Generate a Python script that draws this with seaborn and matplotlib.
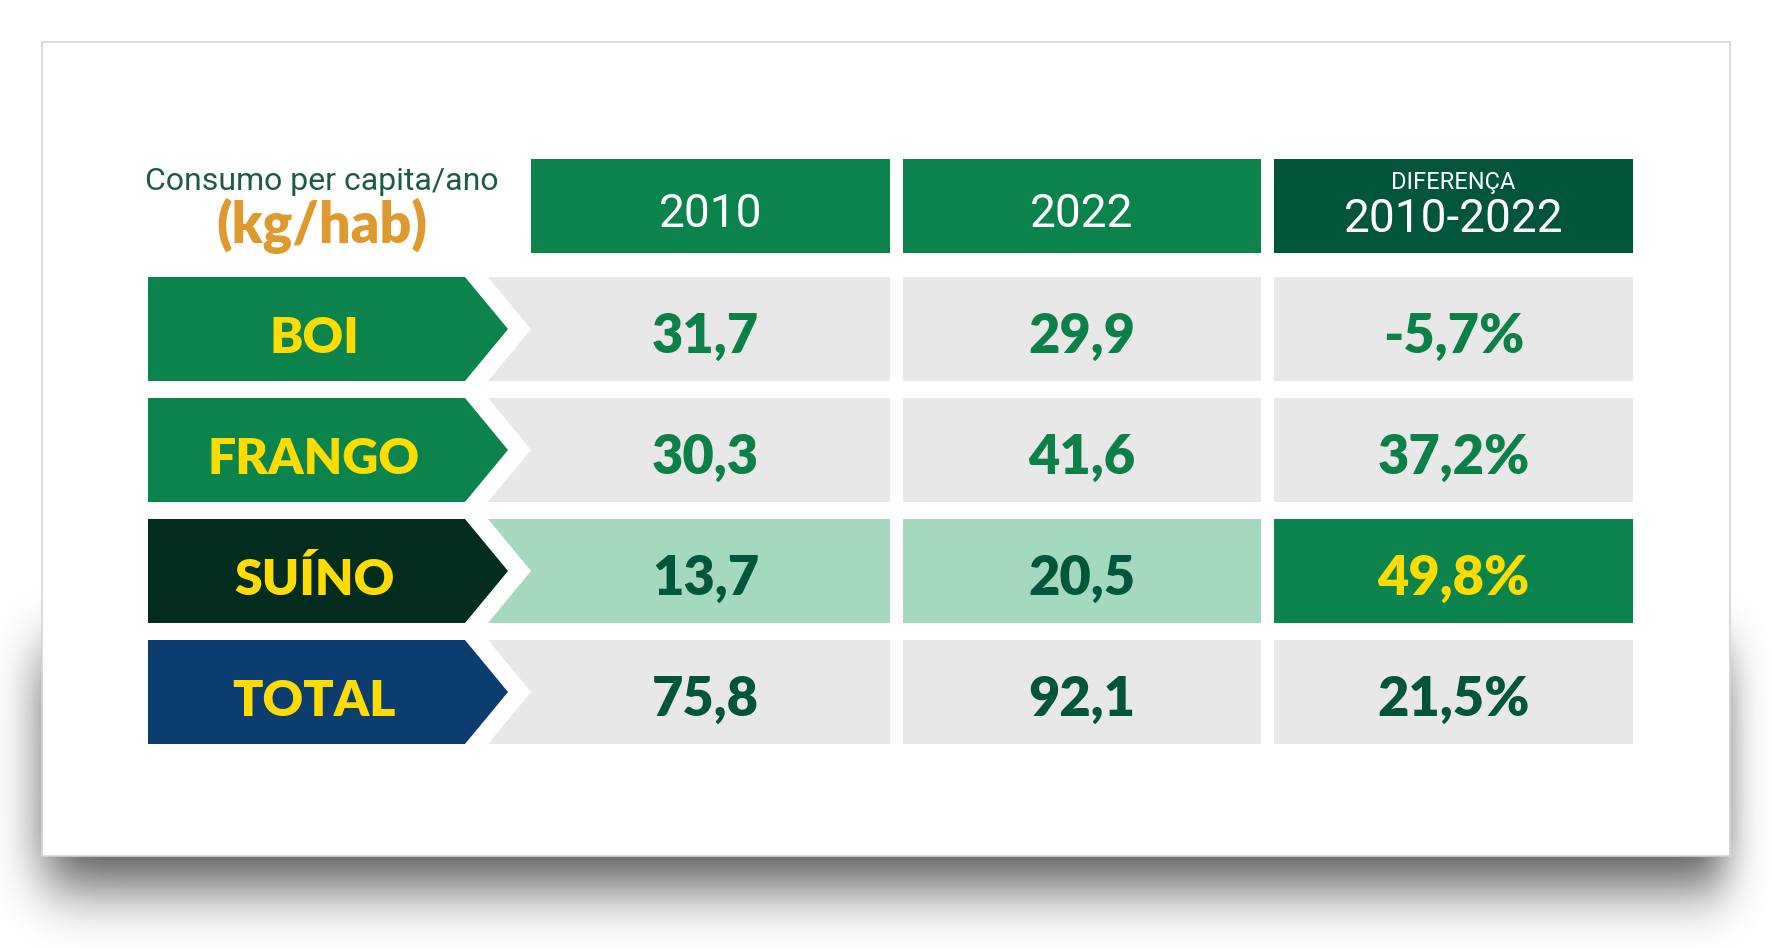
import numpy as np
import seaborn as sns
import matplotlib.pyplot as plt
from matplotlib.patches import Polygon, Rectangle

# data
categorias = ["BOI", "FRANGO", "SUÍNO", "TOTAL"]
anos = ["2010", "2022"]
consumo_2010 = [31.7, 30.3, 13.7, 75.8]
consumo_2022 = [29.9, 41.6, 20.5, 92.1]
diferenca = [-5.7, 37.2, 49.8, 21.5]

# colours
VERDE = "#0a834c"
VERDE_ESCURO = "#00553a"
AMARELO = "#ffdc00"
CINZA = "#e8e8e8"
VERDE_CLARO = "#a4d9c0"
label_bg = [VERDE, VERDE, "#022c1e", "#0b3d70"]
cell_bg = [CINZA, CINZA, VERDE_CLARO, CINZA]
value_color = ["#0b8048", "#0b8048", VERDE_ESCURO, VERDE_ESCURO]
diff_bg = [CINZA, CINZA, VERDE, CINZA]
diff_color = ["#0b8048", "#0b8048", AMARELO, VERDE_ESCURO]

sns.set_theme(style="white")
plt.rcParams["font.family"] = ["Lato", "DejaVu Sans"]

W, H = 1773, 948
fig = plt.figure(figsize=(W / 100, H / 100), dpi=100)
ax = fig.add_axes([0, 0, 1, 1])
ax.set_xlim(0, W)
ax.set_ylim(H, 0)
ax.axis("off")


def phi(z):
    return 0.5 * (1 + np.tanh(0.7978845608 * (z + 0.044715 * z ** 3)))


def fmt(v):
    return f"{v:.1f}".replace(".", ",")


# drop shadow under the card
xx = np.arange(W)[None, :] + 0.5
yy = np.arange(H)[:, None] + 0.5
sx = phi((xx - 45) / 25) * phi((1725 - xx) / 20)
sy = phi((yy - 650) / 30) * phi((885 - yy) / 30)
shadow = np.zeros((H, W, 4))
shadow[..., 3] = 0.68 * sx * sy
ax.imshow(shadow, extent=(0, W, H, 0), zorder=0, interpolation="bilinear")

# card
ax.add_patch(Rectangle((42, 42), 1688, 814, facecolor="white",
                       edgecolor="#d4d4d4", lw=1.2, zorder=1))

# header
col_x = [(531, 890), (903, 1261), (1274, 1633)]
h_top, h_bot = 159, 253
for (x0, x1), ano in zip(col_x[:2], anos):
    ax.add_patch(Rectangle((x0, h_top), x1 - x0, h_bot - h_top,
                           facecolor=VERDE, lw=0, zorder=2))
    ax.text((x0 + x1) / 2, 227, ano, ha="center", va="baseline",
            color="white", fontsize=33, family="Roboto", zorder=3)
x0, x1 = col_x[2]
ax.add_patch(Rectangle((x0, h_top), x1 - x0, h_bot - h_top,
                       facecolor=VERDE_ESCURO, lw=0, zorder=2))
ax.text((x0 + x1) / 2, 189, "DIFERENÇA", ha="center", va="baseline",
        color="white", fontsize=17, family="Roboto", zorder=3)
ax.text((x0 + x1) / 2, 232, f"{anos[0]}-{anos[1]}", ha="center", va="baseline",
        color="white", fontsize=33, family="Roboto", zorder=3)

ax.text(322, 190, "Consumo per capita/ano", ha="center", va="baseline",
        color="#1d5c42", fontsize=23, family="Roboto", zorder=3)
ax.text(322, 243, "(kg/hab)", ha="center", va="baseline",
        color="#e0992f", fontsize=40, fontweight="heavy", zorder=3)

# rows
row_top = [277, 398, 519, 640]
row_h = 104
for i, cat in enumerate(categorias):
    t = row_top[i]
    b = t + row_h
    m = t + row_h / 2
    base = t + 76
    ax.add_patch(Polygon([(148, t), (465, t), (508, m), (465, b), (148, b)],
                         closed=True, facecolor=label_bg[i], lw=0, zorder=2))
    ax.text(314, base, cat, ha="center", va="baseline", color=AMARELO,
            fontsize=36, fontweight="heavy", zorder=3)

    # 2010 cell with notch
    ax.add_patch(Polygon([(488, t), (890, t), (890, b), (488, b), (531, m)],
                         closed=True, facecolor=cell_bg[i], lw=0, zorder=2))
    ax.text(sum(col_x[0]) / 2 - 5, base, fmt(consumo_2010[i]), ha="center",
            va="baseline", color=value_color[i], fontsize=39,
            fontweight="heavy", zorder=3)

    x0, x1 = col_x[1]
    ax.add_patch(Rectangle((x0, t), x1 - x0, row_h, facecolor=cell_bg[i],
                           lw=0, zorder=2))
    ax.text((x0 + x1) / 2, base, fmt(consumo_2022[i]), ha="center",
            va="baseline", color=value_color[i], fontsize=39,
            fontweight="heavy", zorder=3)

    x0, x1 = col_x[2]
    ax.add_patch(Rectangle((x0, t), x1 - x0, row_h, facecolor=diff_bg[i],
                           lw=0, zorder=2))
    ax.text((x0 + x1) / 2, base, fmt(diferenca[i]) + "%", ha="center",
            va="baseline", color=diff_color[i], fontsize=39,
            fontweight="heavy", zorder=3)

fig.savefig("out.png", dpi=100, facecolor="white")
